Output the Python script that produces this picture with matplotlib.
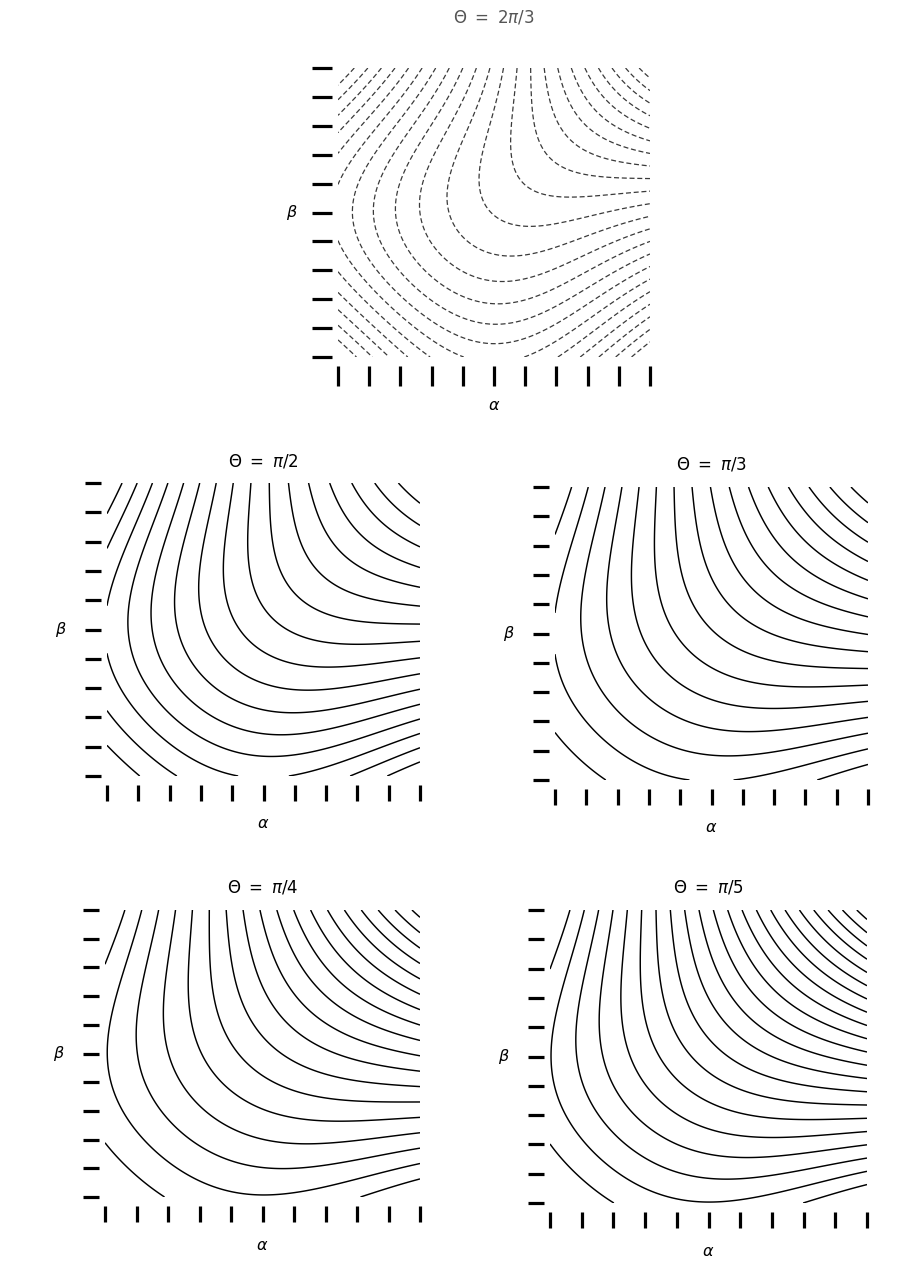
import numpy as np
import matplotlib
matplotlib.use("Agg")
import matplotlib.pyplot as plt

# ---- chart data ----
titles = [r"$\Theta\ =\ 2\pi/3$", r"$\Theta\ =\ \pi/2$", r"$\Theta\ =\ \pi/3$",
          r"$\Theta\ =\ \pi/4$", r"$\Theta\ =\ \pi/5$"]
# surface f(a,b) = A*a*b + B*[sin(pi b)(1-k a) + sin(pi a)(1-k b)], contours every 1 unit
slope_A = [23.0, 16.9, 16.8, 18.65, 22.1]
bump_B = [6.5, 3.1, 2.05, 2.1, 2.35]
decay_k = [1.0, 0.60, 0.68, 1.0, 1.0]
level_offset = [0.2, 0.0, 0.0, 0.175, 0.39]
tick_positions = [0.0, 0.1, 0.2, 0.3, 0.4, 0.5, 0.6, 0.7, 0.8, 0.9, 1.0]
x_label = r"$\alpha$"
y_label = r"$\beta$"

# ---- layout (pixel boxes of the plotting areas: left, top, right, bottom) ----
W, H = 923, 1264
boxes = [(338, 68, 650, 357), (107, 483, 420, 776), (555, 487, 868, 780),
         (105, 910, 420, 1197), (550, 910, 867, 1203)]
PX = 0.72  # points per pixel at dpi 100

fig = plt.figure(figsize=(W / 100, H / 100), dpi=100)

grid = np.linspace(0.0, 1.0, 401)
X, Y = np.meshgrid(grid, grid)

for i, (l, t, r, b) in enumerate(boxes):
    ax = fig.add_axes([l / W, 1 - b / H, (r - l) / W, (b - t) / H])
    A, B, k, L0 = slope_A[i], bump_B[i], decay_k[i], level_offset[i]
    Z = A * X * Y + B * (np.sin(np.pi * Y) * (1 - k * X) + np.sin(np.pi * X) * (1 - k * Y))
    levels = np.arange(1, 60) + L0
    levels = levels[levels < Z.max()]
    if i == 0:
        cs = ax.contour(X, Y, Z, levels=levels, colors="#3a3a3a", linewidths=0.9)
        cs.set_linestyle((0, (4, 2.2)))
    else:
        cs = ax.contour(X, Y, Z, levels=levels, colors="black", linewidths=1.05)
    ax.set_xlim(0, 1)
    ax.set_ylim(0, 1)
    for s in ax.spines.values():
        s.set_visible(False)
    ax.spines["left"].set_position(("outward", 6 * PX))
    ax.spines["bottom"].set_position(("outward", 9 * PX))
    ax.set_xticks(tick_positions)
    ax.set_yticks(tick_positions)
    ax.set_xticklabels([])
    ax.set_yticklabels([])
    tl = 20 if i == 0 else 16
    ax.tick_params(axis="both", direction="out", length=tl * PX, width=2.3,
                   color="black", top=False, right=False)
    tcol = "#555555" if i == 0 else "black"
    ax.annotate(titles[i], xy=(0.5, 1.0), xycoords="axes fraction",
                xytext=(0, (50 if i == 0 else 22) * PX), textcoords="offset points",
                ha="center", va="center", fontsize=12, color=tcol)
    ax.annotate(y_label, xy=(0, 0.5), xycoords="axes fraction",
                xytext=(-46 * PX, 0), textcoords="offset points",
                ha="center", va="center", fontsize=11.5)
    ax.annotate(x_label, xy=(0.5, 0), xycoords="axes fraction",
                xytext=(0, -48 * PX), textcoords="offset points",
                ha="center", va="center", fontsize=11.5)

fig.savefig("out.png", dpi=100)
